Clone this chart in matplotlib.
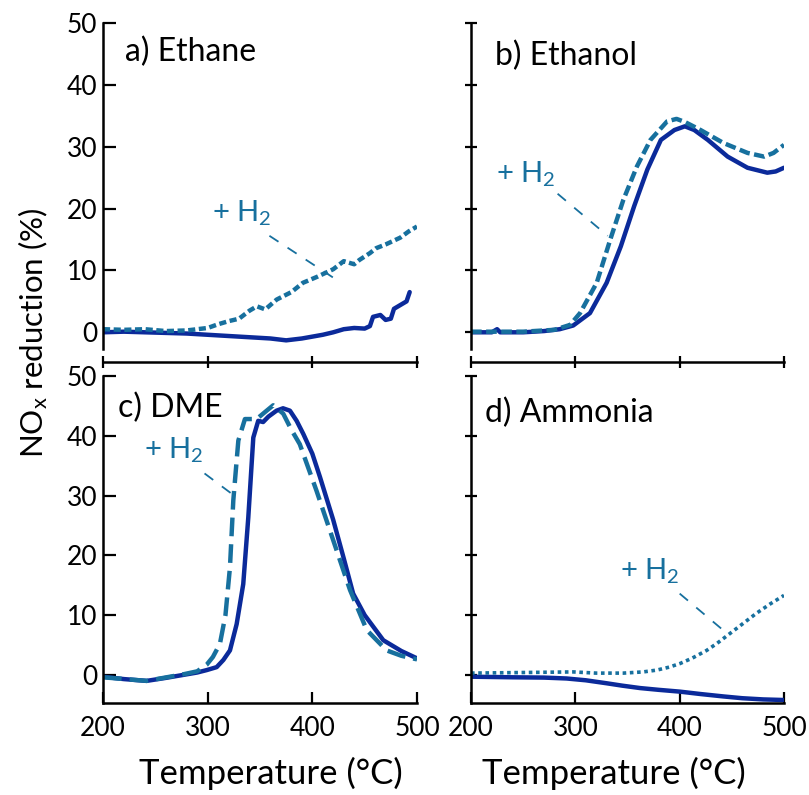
import numpy as np
import matplotlib.pyplot as plt

plt.rcParams['font.family'] = ['Lato', 'DejaVu Sans']
plt.rcParams['mathtext.default'] = 'regular'

# a) Ethane
eth_T = [200, 220, 240, 260, 280, 300, 320, 340, 360, 375, 390, 400, 410, 420, 430,
         440, 450, 455, 458, 465, 470, 475, 478, 485, 490, 493]
eth_y = [0.0, 0.1, 0.0, -0.1, -0.2, -0.4, -0.6, -0.8, -1.0, -1.3, -1.0, -0.7, -0.4, 0.0, 0.5,
         0.7, 0.6, 1.0, 2.5, 2.8, 2.0, 2.2, 3.8, 4.5, 5.0, 6.5]
eth_h2_T = [200, 220, 240, 260, 280, 300, 310, 320, 330, 340, 347, 355, 366, 380, 391,
            405, 420, 430, 440, 445, 455, 461, 470, 484, 492, 500]
eth_h2_y = [0.5, 0.4, 0.5, 0.2, 0.3, 0.7, 1.3, 1.8, 2.2, 3.5, 4.2, 3.7, 5.3, 6.5, 8.0,
            9.0, 10.2, 11.5, 11.0, 11.7, 12.8, 13.6, 14.2, 15.3, 16.3, 17.1]

# b) Ethanol
etoh_T = [200, 220, 225, 228, 250, 270, 285, 298, 314, 330, 343.6, 356.4, 369, 382, 395,
          405, 414, 427, 446, 465, 484, 492, 500]
etoh_y = [0.0, 0.0, 0.5, 0.0, 0.0, 0.2, 0.5, 1.1, 3.1, 8.0, 13.9, 20.4, 26.3, 31.1, 32.7,
          33.3, 32.7, 31.1, 28.4, 26.6, 25.8, 26.0, 26.6]
etoh_h2_T = [200, 250, 280, 295, 304.5, 320.5, 333.5, 346, 359, 372, 388, 397, 405, 420,
             442, 465, 481, 490, 500]
etoh_h2_y = [0.1, 0.1, 0.4, 1.2, 3.1, 8.0, 15.0, 21.4, 26.8, 31.1, 34.1, 34.5, 34.0, 32.7,
             30.6, 29.0, 28.4, 29.0, 30.3]

# c) DME
dme_T = [200, 220, 241.7, 260, 276.7, 290, 299, 308.6, 315, 321.3, 327.7, 334, 338.8, 343.6,
         348.3, 353, 358, 365.8, 372, 378.6, 385, 391.4, 400, 407.3, 420, 430, 439, 450,
         467.8, 485, 499.6]
dme_y = [-0.3, -0.7, -1.0, -0.5, 0.0, 0.4, 0.8, 1.3, 2.5, 4.1, 8.5, 15.2, 26.3, 39.7,
         42.5, 42.3, 43.2, 44.2, 44.6, 44.2, 42.5, 40.3, 37.0, 33.1, 25.9, 19.5, 13.6, 10.0,
         5.8, 4.0, 2.8]
dme_h2_T = [200, 241.7, 276.7, 290, 299, 305, 311.7, 317, 321.3, 324.5, 329.3, 335.6, 346.8,
            355, 362.6, 372.2, 380, 388, 404, 420, 436, 452, 471, 485, 500]
dme_h2_y = [-0.4, -1.0, 0.1, 0.6, 1.7, 3.0, 5.2, 10.0, 18.0, 29.2, 39.2, 42.8, 42.8,
            44.0, 45.1, 43.7, 41.0, 38.6, 30.8, 22.5, 14.2, 7.5, 4.1, 3.2, 2.6]

# d) Ammonia
nh3_T = [200, 240, 270, 291.6, 310, 330, 345, 362, 380, 400.3, 420, 441.8, 460, 480, 500]
nh3_y = [-0.3, -0.4, -0.45, -0.6, -0.9, -1.4, -1.8, -2.2, -2.5, -2.8, -3.2, -3.6, -3.9,
         -4.1, -4.2]
nh3_h2_T = [200, 250, 298, 320, 346, 365, 378, 390, 400.3, 412, 425.9, 436, 448, 460,
            473.5, 487, 500]
nh3_h2_y = [0.3, 0.4, 0.5, 0.3, 0.3, 0.5, 0.8, 1.3, 1.9, 2.8, 4.1, 5.3, 6.9, 8.5,
            10.3, 11.9, 13.3]

panel_labels = ['a) Ethane', 'b) Ethanol', 'c) DME', 'd) Ammonia']
x_ticks = [200, 300, 400, 500]
y_ticks = [0, 10, 20, 30, 40, 50]

BLUE = '#0b2a9a'
TEAL = '#17709e'

W, H = 809, 795
fig = plt.figure(figsize=(W / 100, H / 100), dpi=100)


def px_axes(left, right, top, bottom):
    return fig.add_axes([left / W, 1 - bottom / H, (right - left) / W, (bottom - top) / H])


def fx(x):
    return x / W


def fy(y):
    return 1 - y / H


panels = [
    dict(rect=(103, 417, 23, 349), ylim=(-2.7, 50), top=True, left=True,
         solid=(eth_T, eth_y), h2=(eth_h2_T, eth_h2_y), ls=(0, (1.6, 0.8)), lw=3.2,
         txt=(333, 19.3), lead=((359, 15.6), (423, 8.5)), lab=(125, 61)),
    dict(rect=(471, 784, 23, 349), ylim=(-2.7, 50), top=True, left=False,
         solid=(etoh_T, etoh_y), h2=(etoh_h2_T, etoh_h2_y), ls=(0, (2.4, 1.0)), lw=3.2,
         txt=(252, 25.5), lead=((283, 22.4), (331, 15.6)), lab=(495, 65)),
    dict(rect=(103, 417, 376, 703), ylim=(-4.7, 50), top=False, left=True,
         solid=(dme_T, dme_y), h2=(dme_h2_T, dme_h2_y), ls=(0, (4.2, 1.8)), lw=3.2,
         txt=(268, 37.6), lead=((297, 33.7), (323, 30.3)), lab=(118, 417)),
    dict(rect=(471, 784, 376, 703), ylim=(-4.7, 50), top=False, left=False,
         solid=(nh3_T, nh3_y), h2=(nh3_h2_T, nh3_h2_y), ls=(0, (1.0, 1.0)), lw=2.6,
         txt=(371, 17.4), lead=((400, 13.6), (447, 6.7)), lab=(485, 422)),
]

for p, label in zip(panels, panel_labels):
    ax = px_axes(*p['rect'])
    ax.plot(p['solid'][0], p['solid'][1], color=BLUE, lw=3.2, solid_capstyle='round')
    ax.plot(p['h2'][0], p['h2'][1], color=TEAL, lw=p['lw'], linestyle=p['ls'])

    ax.set_xlim(200, 500)
    ax.set_ylim(*p['ylim'])
    ax.set_xticks(x_ticks)
    ax.set_yticks(y_ticks)
    for s in ['top', 'right']:
        ax.spines[s].set_visible(False)
    for s in ['left', 'bottom']:
        ax.spines[s].set_linewidth(1.8)

    ax.tick_params(axis='both', width=1.6, labelsize=19, pad=4)
    ax.tick_params(axis='y', direction='in' if p['left'] else 'inout', length=9)
    if not p['left']:
        ax.set_yticklabels([])
    if p['top']:
        ax.spines['bottom'].set_position(('outward', 9.4))
        ax.tick_params(axis='x', direction='inout', length=9, labelbottom=False)
    else:
        ax.tick_params(axis='x', direction='in', length=8, pad=9)

    ax.text(p['txt'][0], p['txt'][1], '+ H$_{2}$', color=TEAL, fontsize=21,
            ha='center', va='center')
    (x0, y0), (x1, y1) = p['lead']
    ax.plot([x0, x1], [y0, y1], color=TEAL, lw=1.3, linestyle=(0, (6, 6)))

    fig.text(fx(p['lab'][0]), fy(p['lab'][1]), label, fontsize=23, ha='left',
             va='baseline')

fig.text(fx(33), fy(333), 'NO$_{x}$ reduction (%)', rotation=90, fontsize=22.5,
         ha='center', va='center')
fig.text(fx(271), fy(773), 'Temperature (°C)', fontsize=25, ha='center', va='center')
fig.text(fx(614), fy(773), 'Temperature (°C)', fontsize=25, ha='center', va='center')

fig.savefig('out.png', dpi=100)
